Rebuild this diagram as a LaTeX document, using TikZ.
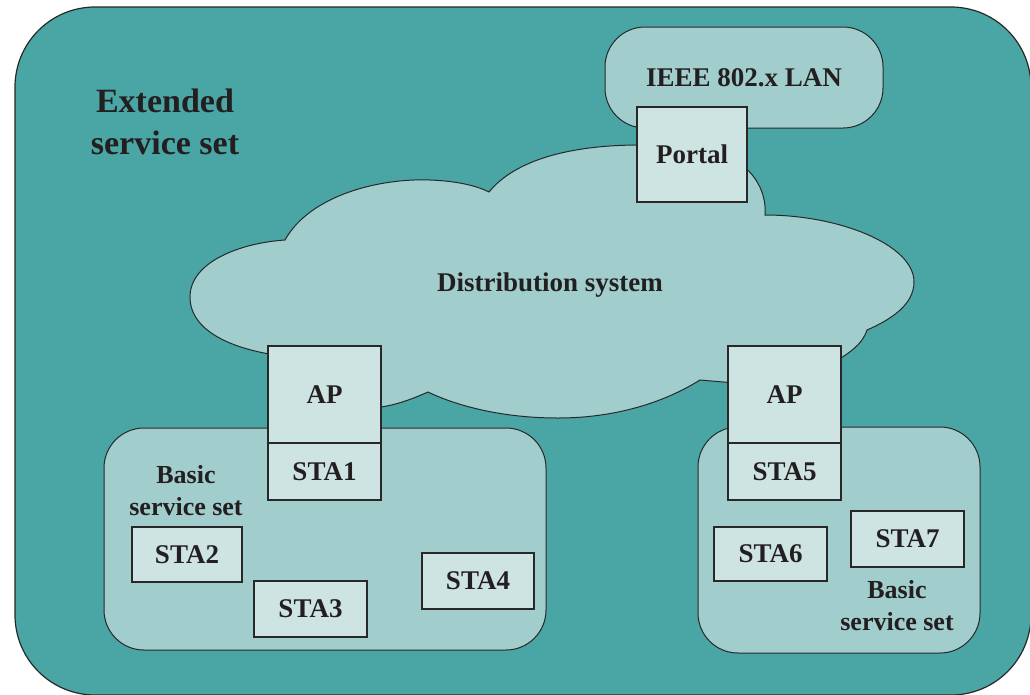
\documentclass[tikz,border=0pt]{standalone}
\usepackage{fontspec}
\setmainfont{Liberation Serif}
\definecolor{esscol}{RGB}{74,165,165}
\definecolor{lightcol}{RGB}{162,205,205}
\definecolor{boxcol}{RGB}{206,228,227}
\definecolor{edgecol}{RGB}{40,40,40}
\definecolor{inkcol}{RGB}{35,31,32}
\tikzset{
  essarea/.style={draw=edgecol, fill=esscol, line width=1.2pt, rounded corners=80pt, inner sep=0pt},
  lightarea/.style={draw=edgecol, fill=lightcol, line width=1pt, rounded corners=40pt, inner sep=0pt},
  cloudarea/.style={draw=edgecol, fill=lightcol, line width=1pt},
  stabox/.style={draw=edgecol, fill=boxcol, line width=1.5pt, inner sep=0pt, text=inkcol,
    font=\fontsize{27}{30}\selectfont\bfseries},
  lbl/.style={text=inkcol, align=center, inner sep=0pt, font=\fontsize{27}{32}\selectfont\bfseries},
  biglbl/.style={text=inkcol, align=center, inner sep=0pt, font=\fontsize{34}{42}\selectfont\bfseries}
}
\begin{document}
\begin{tikzpicture}[x=1pt,y=-1pt]
\useasboundingbox (0,0) rectangle (1030,694);
\clip (0,0) rectangle (1030,694);
% extended service set
\node[essarea, minimum width=1016pt, minimum height=688pt] (ess) at (523,351) {};
\node[biglbl] (esslbl) at (165,122) {Extended\\service set};
% IEEE LAN
\node[lightarea, minimum width=278pt, minimum height=101pt] (lan) at (744,77.5) {};
\node[lbl] (lanlbl) at (744,78) {IEEE 802.x LAN};
% cloud
\path[cloudarea]
  (300,358) .. controls (230,352) and (190,330) .. (190,297)
  .. controls (190,262) and (240,243) .. (285,240)
  .. controls (310,195) and (380,178) .. (430,180)
  .. controls (455,181) and (475,185) .. (489,192)
  .. controls (515,160) and (570,145) .. (640,145)
  -- (720,152)
  .. controls (752,165) and (767,190) .. (765,215)
  .. controls (840,215) and (914,245) .. (914,282)
  .. controls (914,305) and (890,320) .. (867,330)
  .. controls (862,345) and (850,352) .. (835,362)
  -- (735,383) -- (700,380)
  .. controls (660,405) and (610,418) .. (558,418)
  .. controls (500,418) and (455,405) .. (428,392)
  .. controls (410,400) and (395,405) .. (381,407)
  -- cycle;
\node[lbl] (ds) at (550,285) {Distribution system};
% basic service sets
\node[lightarea, minimum width=442pt, minimum height=222pt] (bss1) at (325,539) {};
\node[lightarea, minimum width=282pt, minimum height=226pt] (bss2) at (839,540) {};
\node[lbl, font=\fontsize{26}{32}\selectfont\bfseries] (bss1lbl) at (186,491) {Basic\\service set};
\node[lbl, font=\fontsize{26}{32}\selectfont\bfseries] (bss2lbl) at (897,606) {Basic\\service set};
% portal, APs, stations
\node[stabox, minimum width=110pt, minimum height=95pt] (portal) at (692,154.5) {Portal};
\node[stabox, minimum width=113pt, minimum height=97pt] (ap1) at (324.5,394.5) {AP};
\node[stabox, minimum width=113pt, minimum height=57pt] (sta1) at (324.5,471.5) {STA1};
\node[stabox, minimum width=113pt, minimum height=97pt] (ap2) at (784.5,394.5) {AP};
\node[stabox, minimum width=113pt, minimum height=57pt] (sta5) at (784.5,471.5) {STA5};
\node[stabox, minimum width=110pt, minimum height=55pt] (sta2) at (187,554.5) {STA2};
\node[stabox, minimum width=113pt, minimum height=56pt] (sta3) at (310.5,609) {STA3};
\node[stabox, minimum width=112pt, minimum height=56pt] (sta4) at (478,581) {STA4};
\node[stabox, minimum width=113pt, minimum height=54pt] (sta6) at (770.5,554) {STA6};
\node[stabox, minimum width=113pt, minimum height=56pt] (sta7) at (907.5,539) {STA7};
\end{tikzpicture}
\end{document}
